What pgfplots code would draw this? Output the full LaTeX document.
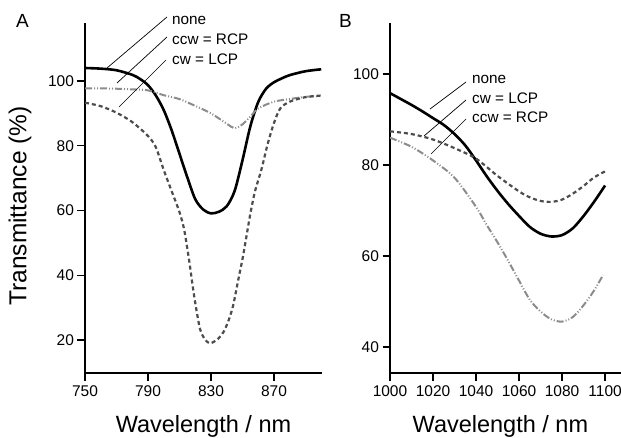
\documentclass[border=0pt]{standalone}
\usepackage{fontspec}
\setmainfont{Liberation Sans}
\usepackage{pgfplots}
\pgfplotsset{compat=1.18}
\definecolor{lcpgray}{HTML}{4D4D4D}
\definecolor{rcpgray}{HTML}{8C8C8C}
\pgfplotsset{
  panel/.style={
    scale only axis, anchor=south west,
    height=350pt,
    axis x line*=bottom, axis y line*=left,
    axis line style={line width=1.6pt},
    tick style={black, line width=1.2pt},
    major tick length=7.5pt, tick align=outside,
    tick label style={font=\fontsize{15.5}{18}\selectfont},
    xticklabel style={yshift=-2pt},
    /pgf/number format/assume math mode=true,
    /pgf/number format/1000 sep={},
    scaled ticks=false,
    xlabel style={font=\fontsize{23.5}{28}\selectfont},
    ylabel style={font=\fontsize{24.5}{28}\selectfont},
  },
  none/.style={black, line width=2.6pt, smooth},
  lcp/.style={lcpgray, line width=2.2pt, dash pattern=on 4pt off 3pt, smooth},
  rcp/.style={rcpgray, line width=2pt, dash pattern=on 7pt off 2pt on 1pt off 2pt on 1pt off 2pt, smooth},
}
\begin{document}
\begin{tikzpicture}
\useasboundingbox (0,0) rectangle (621pt,437pt);

% panel A
\begin{axis}[panel, at={(85pt,64pt)}, width=237pt,
  xmin=750, xmax=900.5, ymin=9.8, ymax=117.9,
  xtick={750,790,830,870}, ytick={20,40,60,80,100},
  xlabel={Wavelength / nm}, ylabel={Transmittance (\%)},
  xlabel style={at={(axis description cs:0.5,0)}, anchor=base, yshift=-59pt},
  ylabel style={at={(axis description cs:-0.274,0.477)}, anchor=center},
]
\addplot[none] coordinates {
 (750,104.0) (760,103.8) (770,103.3) (780,101.9) (785,100.6) (790,98.7)
 (795,95.5) (800,91) (805,84.8) (810,77.5) (815,70.2) (820,63.5) (825,60.3)
 (830,59.1) (835,59.6) (840,61.3) (845,66) (850,75.5) (855,86) (860,93.5)
 (865,97.6) (870,99.6) (875,100.8) (880,101.8) (890,103) (900,103.6)
};
\addplot[rcp] coordinates {
 (750,97.7) (760,97.7) (770,97.6) (780,97.4) (790,97.1) (800,95.6) (810,94.4)
 (820,92.3) (830,90) (840,86.8) (845,85.4) (850,86.6) (855,89) (860,91.5)
 (870,93.6) (880,94.4) (890,95.1) (900,95.3)
};
\addplot[lcp] coordinates {
 (750,93.3) (760,92.2) (770,90.2) (780,87.3) (790,83) (795,79.5) (800,72.5)
 (805,66) (810,59.5) (813,54) (816,45) (818,38) (820,31.5) (823,23.5)
 (826,20.3) (829,19) (832,19.5) (835,20.6) (838,22.5) (841,25.8) (844,30.5)
 (847,37.8) (850,45) (852,50.5) (855,59) (858,66) (862,72.6) (866,80.5)
 (870,87) (874,91.5) (880,93.6) (890,95) (900,95.5)
};
\end{axis}

% panel B
\begin{axis}[panel, at={(390pt,64pt)}, width=231pt,
  xmin=1000, xmax=1107.4, ymin=34.3, ymax=111.2,
  xtick={1000,1020,1040,1060,1080,1100}, ytick={40,60,80,100},
  xlabel={Wavelength / nm},
  xlabel style={at={(axis description cs:0.478,0)}, anchor=base, yshift=-59pt},
]
\addplot[none] coordinates {
 (1000,95.8) (1005,94.5) (1010,93.2) (1015,91.8) (1020,90.3) (1025,88.8)
 (1030,86.8) (1035,84.3) (1040,81) (1045,77.5) (1050,74.3) (1055,71.4)
 (1060,68.8) (1065,66.4) (1070,64.9) (1075,64.3) (1080,64.6) (1085,66.1)
 (1090,68.8) (1095,72) (1100,75.5)
};
\addplot[lcp] coordinates {
 (1000,87.4) (1010,86.8) (1020,85.6) (1030,83.7) (1040,81.4) (1050,77.6)
 (1060,74.2) (1065,72.9) (1070,72.1) (1075,71.9) (1080,72.4) (1085,73.7)
 (1090,75.4) (1095,77.3) (1100,78.6)
};
\addplot[rcp] coordinates {
 (1000,86.0) (1010,84) (1020,81) (1030,77.2) (1040,70.8) (1045,66.8)
 (1050,63) (1055,58.9) (1060,54.6) (1065,50.4) (1070,47.8) (1075,46.1)
 (1080,45.6) (1085,46.6) (1090,49.2) (1095,52.5) (1099,55.8)
};
\end{axis}

% panel letters and callouts
\node[anchor=base west, inner sep=0, font=\fontsize{19}{22}\selectfont] at (16pt,409pt) {A};
\node[anchor=base west, inner sep=0, font=\fontsize{19}{22}\selectfont] at (339pt,409pt) {B};

\begin{scope}[line width=0.7pt]
\draw (167pt,420pt) -- (107pt,369pt);
\draw (167pt,400pt) -- (117pt,354pt);
\draw (166pt,377pt) -- (119pt,330pt);
\draw (466pt,355pt) -- (430pt,328pt);
\draw (466pt,337pt) -- (424pt,301pt);
\draw (466pt,318pt) -- (431pt,283pt);
\end{scope}
\begin{scope}[every node/.style={anchor=base west, inner sep=0, font=\fontsize{15.3}{18}\selectfont}]
\node at (172pt,412pt) {none};
\node at (172pt,392pt) {ccw = RCP};
\node at (172pt,372pt) {cw = LCP};
\node at (472pt,353pt) {none};
\node at (472pt,333pt) {cw = LCP};
\node at (472pt,314pt) {ccw = RCP};
\end{scope}
\end{tikzpicture}
\end{document}
